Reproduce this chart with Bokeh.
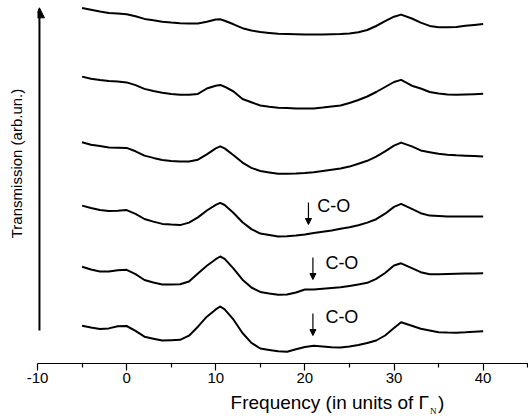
from bokeh.plotting import figure
from bokeh.models import Range1d, Arrow, NormalHead, Label, FixedTicker, LinearAxis
from bokeh.embed import file_html
from bokeh.resources import INLINE

# Frequency grid (units of Gamma_N)
freq = [-5, -4, -3, -2, -1, 0, 1, 2, 3, 4, 5, 6, 7, 8, 9, 10, 10.5, 11, 12, 13,
        14, 15, 16, 17, 18, 19, 20, 21, 22, 23, 24, 25, 26, 27, 28, 29, 30, 30.8,
        32, 33, 34, 35, 36, 37, 38, 39, 40]

# Transmission spectra (arb. units, vertically offset), top to bottom
trans_1 = [35.56, 35.37, 35.20, 35.06, 35.00, 34.93, 34.72, 34.46, 34.32, 34.18,
           34.09, 34.02, 33.99, 34.01, 34.17, 34.40, 34.42, 34.28, 33.92, 33.53,
           33.30, 33.14, 33.05, 32.97, 32.95, 32.93, 32.91, 32.90, 32.91, 32.93,
           32.95, 32.99, 33.12, 33.35, 33.75, 34.23, 34.68, 34.89, 34.50, 34.09,
           33.76, 33.63, 33.63, 33.65, 33.77, 33.86, 33.96]
trans_2 = [28.69, 28.47, 28.34, 28.24, 28.19, 28.11, 27.84, 27.46, 27.25, 27.08,
           26.96, 26.88, 26.87, 26.96, 27.50, 27.77, 27.86, 27.68, 27.20, 26.45,
           26.12, 25.80, 25.67, 25.57, 25.54, 25.50, 25.50, 25.50, 25.59, 25.70,
           25.80, 26.05, 26.35, 26.70, 27.15, 27.65, 28.15, 28.36, 27.78, 27.50,
           27.15, 27.00, 26.91, 26.87, 26.90, 26.93, 26.97]
trans_3 = [22.12, 21.88, 21.74, 21.61, 21.58, 21.56, 21.22, 20.79, 20.56, 20.36,
           20.26, 20.19, 20.20, 20.38, 20.92, 21.52, 21.72, 21.51, 20.82, 20.09,
           19.56, 19.25, 19.11, 18.97, 18.97, 18.99, 19.04, 19.12, 19.25, 19.37,
           19.49, 19.69, 19.97, 20.27, 20.68, 21.21, 21.79, 22.09, 21.71, 21.31,
           21.13, 20.97, 20.88, 20.82, 20.78, 20.74, 20.70]
trans_4 = [15.79, 15.55, 15.35, 15.24, 15.28, 15.34, 14.96, 14.45, 14.19, 13.96,
           13.89, 13.84, 14.09, 14.61, 15.30, 15.86, 16.06, 15.85, 15.05, 14.13,
           13.44, 12.99, 12.84, 12.70, 12.73, 12.79, 12.90, 13.06, 13.18, 13.31,
           13.47, 13.62, 13.83, 14.09, 14.43, 14.98, 15.66, 15.96, 15.46, 15.03,
           14.79, 14.74, 14.70, 14.70, 14.70, 14.70, 14.70]
trans_5 = [9.68, 9.40, 9.21, 9.21, 9.33, 9.37, 8.93, 8.35, 8.10, 7.90,
           7.90, 7.92, 8.20, 9.01, 9.78, 10.43, 10.70, 10.46, 9.49, 8.38,
           7.60, 7.16, 7.00, 6.87, 6.90, 7.10, 7.40, 7.40, 7.47, 7.54,
           7.62, 7.75, 7.90, 8.07, 8.47, 9.05, 9.80, 10.02, 9.53, 9.13,
           8.93, 8.92, 8.95, 8.97, 8.99, 9.01, 9.03]
trans_6 = [3.78, 3.60, 3.45, 3.51, 3.72, 3.75, 3.27, 2.68, 2.48, 2.30,
           2.33, 2.37, 2.78, 3.68, 4.68, 5.41, 5.70, 5.42, 4.38, 3.05,
           2.06, 1.50, 1.35, 1.22, 1.17, 1.43, 1.65, 1.77, 1.70, 1.62,
           1.60, 1.70, 1.85, 2.05, 2.30, 2.80, 3.55, 4.12, 3.77, 3.47,
           3.29, 3.13, 3.09, 3.08, 3.12, 3.18, 3.23]

x_ticks = [-10, 0, 10, 20, 30, 40]
x_minor = [-5, 5, 15, 25, 35, 45]
x_tick_text = {-10: "-10", 0: "0", 10: "10", 20: "20", 30: "30", 40: "40"}

# C-O markers
co_text = ["C-O", "C-O", "C-O"]
co_freq = [20.4, 20.9, 20.9]
co_top = [16.1, 10.6, 5.0]
co_bottom = [13.9, 8.4, 2.8]
co_text_x = [21.4, 22.3, 22.3]
co_text_y = [15.8, 10.05, 4.7]

# axis titles (placed at these axis positions)
x_title = "Frequency (in units of \u0393\u00a0\u2009)"
x_title_at = 23.66
x_title_sub = "N"
x_title_sub_at = 34.4
y_title = "Transmission (arb.un.)"
y_title_at = 20

FONT = "Liberation Sans"


def text_only_axis(ax, at, text, font, size, standoff):
    ax.ticker = FixedTicker(ticks=[at], minor_ticks=[])
    ax.major_label_overrides = {at: text}
    ax.axis_line_color = None
    ax.major_tick_line_color = None
    ax.minor_tick_line_color = None
    ax.major_tick_out = 0
    ax.major_tick_in = 0
    ax.minor_tick_out = 0
    ax.minor_tick_in = 0
    ax.major_label_text_font = font
    ax.major_label_text_font_size = size
    ax.major_label_text_color = "black"
    ax.major_label_standoff = standoff


p = figure(width=528, height=419, x_range=Range1d(-10, 45.09), y_range=Range1d(0, 36.3),
           output_backend="svg", toolbar_location=None,
           min_border_left=37, min_border_right=0, min_border_top=0, min_border_bottom=56)
p.outline_line_color = None
p.grid.visible = False

for tr in [trans_1, trans_2, trans_3, trans_4, trans_5, trans_6]:
    p.line(freq, tr, line_color="black", line_width=2, line_join="round")

# x axis with ticks
xa = p.xaxis[0]
xa.ticker = FixedTicker(ticks=x_ticks, minor_ticks=x_minor)
xa.major_label_overrides = x_tick_text
xa.major_tick_out = 7
xa.major_tick_in = 0
xa.minor_tick_out = 4
xa.minor_tick_in = 0
xa.axis_line_width = 1.2
xa.major_tick_line_width = 1.2
xa.minor_tick_line_width = 1.2
xa.axis_line_color = "black"
xa.major_tick_line_color = "black"
xa.minor_tick_line_color = "black"
xa.major_label_text_font = FONT
xa.major_label_text_font_size = "15px"
xa.major_label_text_color = "black"
xa.major_label_standoff = 2

# x title and its subscript
title_axis = LinearAxis()
text_only_axis(title_axis, x_title_at, x_title, FONT, "19px", 6)
p.add_layout(title_axis, "below")

sub_axis = LinearAxis()
text_only_axis(sub_axis, x_title_sub_at, x_title_sub, "Liberation Serif", "9px", -10)
p.add_layout(sub_axis, "below")

# y title
ya = p.yaxis[0]
text_only_axis(ya, y_title_at, y_title, FONT, "15px", 13)
ya.major_label_orientation = "parallel"

# arrow along the y axis
p.add_layout(Arrow(end=NormalHead(size=10, fill_color="black", line_color="black"),
                   x_start=-9.78, y_start=3.3, x_end=-9.78, y_end=35.57,
                   line_width=2, line_color="black"))

# C-O markers
for i in range(3):
    p.add_layout(Arrow(end=NormalHead(size=6, fill_color="black", line_color="black"),
                       x_start=co_freq[i], y_start=co_top[i], x_end=co_freq[i], y_end=co_bottom[i],
                       line_width=1.2, line_color="black"))
    p.add_layout(Label(x=co_text_x[i], y=co_text_y[i], text=co_text[i], text_font=FONT,
                       text_font_size="18px", text_color="black", text_baseline="middle",
                       text_align="left"))

open("out.html", "w").write(file_html(p, INLINE))
